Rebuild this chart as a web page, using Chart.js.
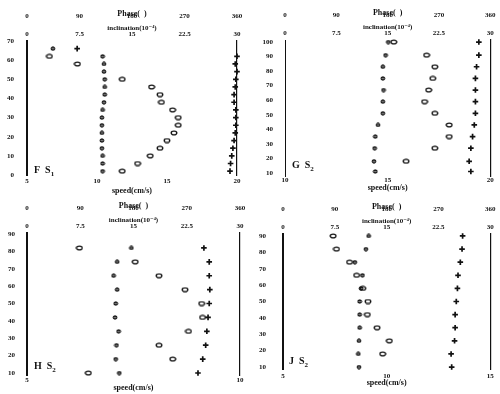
<!DOCTYPE html>
<html>
<head>
<meta charset="utf-8">
<script src="https://cdn.jsdelivr.net/npm/chart.js@4/dist/chart.umd.min.js"></script>
<style>
  body { margin: 0; background: #fff; }
  #wrap { position: relative; width: 500px; height: 394px; overflow: hidden; background: #fff; }
  .panel { position: absolute; width: 250px; height: 197px; }
  .tag { position: absolute; font: bold 10px/10px "Liberation Serif", serif; color: #111; white-space: nowrap; }
  .tag sub { font-size: 7px; }
</style>
</head>
<body>
<div id="wrap">
  <div class="panel" style="left:0;top:0"><canvas id="cF" width="250" height="197"></canvas></div>
  <div class="panel" style="left:250px;top:0"><canvas id="cG" width="250" height="197"></canvas></div>
  <div class="panel" style="left:0;top:197px"><canvas id="cH" width="250" height="197"></canvas></div>
  <div class="panel" style="left:250px;top:197px"><canvas id="cJ" width="250" height="197"></canvas></div>
  <div class="tag" style="left:34px;top:165px">F&nbsp;&nbsp;S<sub>1</sub></div>
  <div class="tag" style="left:292px;top:160px">G&nbsp;&nbsp;S<sub>2</sub></div>
  <div class="tag" style="left:34px;top:361px">H&nbsp;&nbsp;S<sub>2</sub></div>
  <div class="tag" style="left:289px;top:356px">J&nbsp;&nbsp;S<sub>2</sub></div>
</div>
<script>
// tick labels
const phaseTicks = [0, 90, 180, 270, 360];
const inclTicks = [0, 7.5, 15, 22.5, 30];

// panel F (S1)
const depthF = [2, 6, 10, 14, 18, 22, 26, 30, 34, 38, 42, 46, 50, 54, 58, 62, 66];
const speedF = [11.8, 12.9, 13.8, 14.5, 15.0, 15.5, 15.8, 15.8, 15.4, 14.6, 14.5, 13.9, 11.8, null, 8.6, 6.6, null];
const phaseF = [348, 349, 351, 353, 355, 357, 358, 358, 358, 355, 355, 357, 358, 360, 357, 360, 86];
const inclF = [10.8, 10.8, 10.8, 10.7, 10.7, 10.7, 10.7, 10.7, 10.8, 11.0, 11.1, 11.1, 11.1, 11.0, 11.0, 10.8, 3.7];
const depthTicksF = [0, 10, 20, 30, 40, 50, 60, 70];
const speedTicksF = [5, 10, 15, 20];

// panel G (S2)
const depthG = [11, 18, 27, 35, 43, 51, 59, 67, 75, 83, 91, 100];
const speedG = [null, 15.9, 17.3, 18.0, 18.0, 17.3, 16.8, 17.0, 17.2, 17.3, 16.9, 15.3];
const phaseG = [326, 323, 326, 329, 332, 334, 334, 334, 334, 336, 340, 340];
const inclG = [13.2, 13.0, 13.1, 13.2, 13.6, 14.3, 14.3, 14.4, 14.3, 14.3, 14.7, 15.1];
const depthTicksG = [10, 20, 30, 40, 50, 60, 70, 80, 90, 100];
const speedTicksG = [10, 15, 20];

// panel H (S2)
const depthH = [10, 18, 26, 34, 42, 50, 58, 66, 74, 82];
const speedH = [6.44, 8.42, 8.10, 8.79, 9.12, 9.10, 8.71, 8.10, 7.54, 6.23];
const phaseH = [289, 297, 302, 304, 306, 308, 309, 308, 308, 299];
const inclH = [13.0, 12.5, 12.6, 12.9, 12.4, 12.5, 12.7, 12.2, 12.7, 14.7];
const depthTicksH = [10, 20, 30, 40, 50, 60, 70, 80, 90];
const speedTicksH = [5, 10];

// panel J (S2)
const depthJ = [10, 18, 26, 34, 42, 50, 58, 66, 74, 82, 90];
const speedJ = [null, 9.81, 10.13, 9.54, 9.07, 9.10, 8.85, 8.55, 8.21, 7.58, 7.42];
const phaseJ = [293, 292, 298, 299, 299, 301, 303, 304, 308, 311, 312];
const inclJ = [11.0, 10.9, 11.0, 11.1, 11.1, 11.1, 11.3, 11.5, 10.4, 12.0, 12.4];
const depthTicksJ = [10, 20, 30, 40, 50, 60, 70, 80, 90];
const speedTicksJ = [5, 10, 15];

const ink = '#111';
const serif = '"Liberation Serif", "DejaVu Serif", serif';
const tickFont = { family: serif, size: 7, weight: 'bold', lineHeight: 1 };
const titleFont = { family: serif, size: 8, weight: 'bold', lineHeight: 1 };
const smallTitleFont = { family: serif, size: 7, weight: 'bold', lineHeight: 1 };

// little canvases used as point styles
function mark(w, h, draw) {
  const c = document.createElement('canvas');
  c.width = w; c.height = h;
  const g = c.getContext('2d');
  g.strokeStyle = ink; g.fillStyle = ink;
  draw(g);
  return c;
}
const ringMark = mark(8, 6, g => {
  g.lineWidth = 1.4;
  g.beginPath(); g.ellipse(4, 3, 2.8, 1.9, 0, 0, Math.PI * 2); g.stroke();
});
const inclMark = mark(6, 5, g => {
  g.lineWidth = 1.1;
  g.beginPath(); g.ellipse(3, 2.5, 1.9, 1.4, 0, 0, Math.PI * 2); g.stroke();
  g.beginPath(); g.moveTo(3, 0.5); g.lineTo(3, 4.5); g.stroke();
});

function pts(xs, ys) {
  const out = [];
  xs.forEach((v, i) => { if (v !== null) out.push({ x: v, y: ys[i] }); });
  return out;
}
function setTicks(list) {
  return s => { s.ticks = list.map(v => ({ value: v })); };
}

function makePanel(id, p) {
  new Chart(document.getElementById(id), {
    type: 'scatter',
    data: {
      datasets: [
        { label: 'speed', data: pts(p.speed, p.depth), xAxisID: 'x', yAxisID: 'y',
          pointStyle: ringMark, clip: false },
        { label: 'phase', data: pts(p.phase, p.depth), xAxisID: 'phase', yAxisID: 'y',
          pointStyle: 'cross', pointRadius: 2.8, borderWidth: 1.7, borderColor: ink, clip: false },
        { label: 'inclination', data: pts(p.incl, p.depth), xAxisID: 'incl', yAxisID: 'y',
          pointStyle: inclMark, clip: false },
      ],
    },
    options: {
      responsive: false,
      animation: false,
      events: [],
      layout: { padding: { left: 0, right: 0, top: p.topPad, bottom: 0 } },
      plugins: { legend: { display: false }, tooltip: { enabled: false } },
      scales: {
        y: {
          type: 'linear', position: 'left', min: p.yMin, max: p.yMax,
          afterBuildTicks: setTicks(p.yTicks),
          afterFit: s => { s.width = p.left; },
          ticks: { font: tickFont, color: ink, padding: p.yPad, autoSkip: false },
          grid: { display: false, drawTicks: false },
          border: { display: true, color: ink, width: p.leftW, dash: p.leftDash },
        },
        yr: {
          type: 'linear', position: 'right', min: p.yMin, max: p.yMax,
          afterFit: s => { s.width = p.right; },
          ticks: { display: false },
          grid: { display: false, drawTicks: false },
          border: { display: p.rightDash !== null, color: ink, width: 1.2, dash: p.rightDash || [] },
        },
        x: {
          type: 'linear', position: 'bottom', min: p.xMin, max: p.xMax,
          afterBuildTicks: setTicks(p.xTicks),
          afterFit: s => { s.height = p.bottomH; },
          ticks: { font: tickFont, color: ink, padding: p.xPad, autoSkip: false, maxRotation: 0, minRotation: 0 },
          grid: { display: false, drawTicks: false },
          border: { display: false },
          title: { display: true, text: 'speed(cm/s)', font: titleFont, color: ink,
                   padding: { top: 0, bottom: p.titlePad } },
        },
        phase: {
          type: 'linear', position: 'top', weight: 2, min: 0, max: 360,
          afterBuildTicks: setTicks(phaseTicks),
          afterFit: s => { s.height = 14; },
          ticks: { font: tickFont, color: ink, padding: 4.5, autoSkip: false, maxRotation: 0, minRotation: 0 },
          grid: { display: false, drawTicks: false },
          border: { display: false },
          title: { display: true, text: 'Phase(  )', font: titleFont, color: ink, padding: { top: 0, bottom: 0 } },
        },
        incl: {
          type: 'linear', position: 'top', weight: 1, min: 0, max: 30,
          afterBuildTicks: setTicks(inclTicks),
          afterFit: s => { s.height = 17; },
          ticks: { font: tickFont, color: ink, padding: 3.5, autoSkip: false, maxRotation: 0, minRotation: 0 },
          grid: { display: false, drawTicks: false },
          border: { display: false },
          title: { display: true, text: 'inclination(10⁻⁴)', font: smallTitleFont, color: ink,
                   padding: { top: 1, bottom: 0 } },
        },
      },
    },
  });
}

makePanel('cF', {
  depth: depthF, speed: speedF, phase: phaseF, incl: inclF,
  yMin: 0, yMax: 70, yTicks: depthTicksF, xMin: 5, xMax: 20, xTicks: speedTicksF,
  topPad: 10, left: 27, right: 13, bottomH: 22, xPad: 2.5, titlePad: 2, yPad: 13,
  leftW: 2, leftDash: [0, 14, 200], rightDash: [0, 9, 200],
});
makePanel('cG', {
  depth: depthG, speed: speedG, phase: phaseG, incl: inclG,
  yMin: 7.9, yMax: 101.4, yTicks: depthTicksG, xMin: 10, xMax: 20, xTicks: speedTicksG,
  topPad: 9, left: 35, right: 7, bottomH: 21, xPad: 0.5, titlePad: 4.7, yPad: 12,
  leftW: 1, leftDash: [1, 2], rightDash: [10, 73, 60],
});
makePanel('cH', {
  depth: depthH, speed: speedH, phase: phaseH, incl: inclH,
  yMin: 8.85, yMax: 90.6, yTicks: depthTicksH, xMin: 5, xMax: 10, xTicks: speedTicksH,
  topPad: 5, left: 27, right: 10, bottomH: 19, xPad: 1.5, titlePad: 2, yPad: 12,
  leftW: 2, leftDash: [], rightDash: [34, 8, 18, 10, 200],
});
makePanel('cJ', {
  depth: depthJ, speed: speedJ, phase: phaseJ, incl: inclJ,
  yMin: 8.8, yMax: 91.2, yTicks: depthTicksJ, xMin: 5, xMax: 15, xTicks: speedTicksJ,
  topPad: 6, left: 33, right: 5, bottomH: 25, xPad: 3.5, titlePad: 7.5, yPad: 17,
  leftW: 2, leftDash: [], rightDash: [15, 12, 5, 10, 5, 200],
});
</script>
</body>
</html>
